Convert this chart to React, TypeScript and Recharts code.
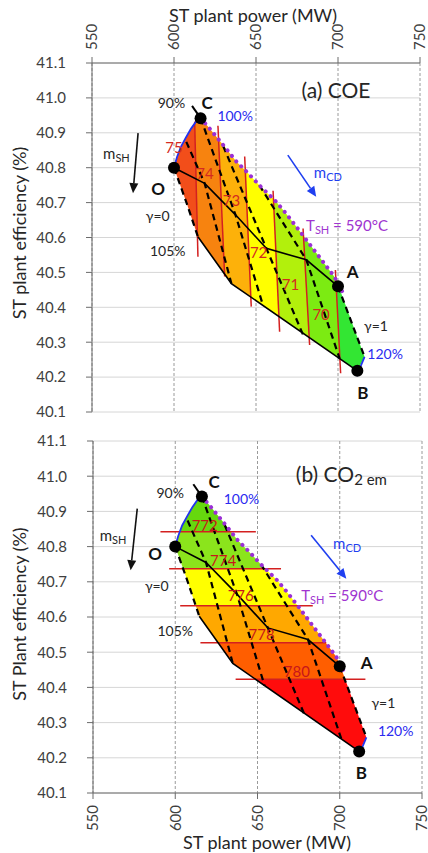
import React from "react";
import { ComposedChart, Scatter, XAxis, YAxis, CartesianGrid } from "recharts";

const FONT = "Lato, 'Open Sans', sans-serif";

// axes
const X_TICKS = [550, 600, 650, 700, 750];
const Y_TICKS = [40.1, 40.2, 40.3, 40.4, 40.5, 40.6, 40.7, 40.8, 40.9, 41.0, 41.1];

// operating points
const POINT_NAMES = ["O", "C", "A", "B"];
const POINT_X = [600, 616.2, 700, 711.8];
const POINT_Y = [40.8, 40.942, 40.46, 40.218];

// 100% boundary O -> C (blue)
const SH100_X = [600, 601.8, 604.2, 607.2, 610.4, 613.4, 616.2];
const SH100_Y = [40.8, 40.83, 40.86, 40.886, 40.912, 40.932, 40.942];

// T_SH = 590°C boundary C -> A (purple dots)
const TSH_X = [616.2, 620.7, 630, 638, 645, 653, 661.8, 667.4, 675.6, 682, 689.8, 697.9, 700, 704];
const TSH_Y = [40.942, 40.918, 40.865, 40.818, 40.785, 40.745, 40.705, 40.674, 40.625, 40.585, 40.537, 40.487, 40.465, 40.435];

// 120% short segment at B (blue) and 90% tick at C (black)
const SH120_X = [716.2, 711.3];
const SH120_Y = [40.258, 40.203];
const SH90_X = [611, 616.2];
const SH90_Y = [40.977, 40.942];

// solid lines
const MID_X = [600, 618.7, 637.5, 656.3, 680.7, 700];
const MID_Y = [40.8, 40.755, 40.665, 40.569, 40.536, 40.46];
const LOW_X = [614.6, 635, 711.8];
const LOW_Y = [40.602, 40.468, 40.218];

// dashed gamma lines (gamma = 0 ... 1)
const GAMMA_X = [
  [600, 607.6, 614.6],
  [607.5, 618.7, 635],
  [616.2, 637.5, 654.3],
  [630, 656.3, 678.7],
  [652, 680.7, 701],
  [700, 716.2],
];
const GAMMA_Y = [
  [40.8, 40.7, 40.602],
  [40.874, 40.755, 40.468],
  [40.942, 40.665, 40.405],
  [40.862, 40.569, 40.321],
  [40.75, 40.536, 40.253],
  [40.46, 40.258],
];

// (a) COE contour lines and labels
const COE_TOP_X = [612.6, 626.8, 643.1, 660.4, 678.7, 698.4];
const COE_TOP_Y = [40.932, 40.92, 40.832, 40.734, 40.626, 40.507];
const COE_BOT_X = [614.6, 630.9, 647.1, 664.4, 682.7, 701.6];
const COE_BOT_Y = [40.545, 40.488, 40.402, 40.33, 40.292, 40.211];
const COE_LABELS = ["75", "74", "73", "72", "71", "70"];
const COE_LABEL_X = [600, 618.9, 635.1, 651.6, 671, 689.7];
const COE_LABEL_Y = [40.858, 40.784, 40.707, 40.559, 40.468, 40.382];
const COE_COLORS = ["#F24E1A", "#F7830F", "#FDB10A", "#FFFF00", "#B2F00C", "#7CEB12", "#33E633"];

// (b) CO2 emission contour lines and labels
const CO2_Y = [40.842, 40.737, 40.632, 40.527, 40.423];
const CO2_X0 = [591, 596.3, 603, 615.3, 636.7];
const CO2_X1 = [649, 664.3, 683.6, 691.8, 715.6];
const CO2_LABELS = ["772", "774", "776", "778", "780"];
const CO2_LABEL_X = [617.9, 629.1, 639.8, 652.5, 673.9];
const CO2_LABEL_Y = [40.861, 40.763, 40.662, 40.553, 40.448];
const CO2_COLORS = ["#66D80E", "#8BE41C", "#FFFF00", "#FFA800", "#FF5E00", "#FF0C0C"];

// annotations
const NOTE_A = { plain: [["90%", 598.4, 40.987], ["γ=0", 590.1, 40.664], ["105%", 596.2, 40.564], ["γ=1", 723.2, 40.349]], bold: [["O", 590.3, 40.741], ["C", 620.2, 40.987], ["A", 709, 40.502], ["B", 715.1, 40.155]], blue: [["100%", 637.3, 40.951], ["120%", 728.7, 40.269]] };
const NOTE_B = { plain: [["90%", 596.9, 40.955], ["γ=0", 588.8, 40.69], ["105%", 600, 40.562], ["γ=1", 726.5, 40.358]], bold: [["O", 587.8, 40.78], ["C", 623.7, 40.986], ["A", 716.3, 40.472], ["B", 713.2, 40.159]], blue: [["100%", 640.3, 40.936], ["120%", 734, 40.278]] };
const SUB_A = { msh: [564.9, 40.842], mcd: [693.8, 40.789], tsh: [705.5, 40.636], title: [698.8, 41.023] };
const SUB_B = { msh: [562.2, 40.832], mcd: [704.5, 40.809], tsh: [701.5, 40.662], title: [701, 41.008] };
const ARROW_A = { msh: [[578.1, 40.899], [575, 40.727]], mcd: [[669.4, 40.836], [686.7, 40.717]] };
const ARROW_B = { msh: [[576.9, 40.908], [572.9, 40.733]], mcd: [[682.6, 40.832], [704, 40.709]] };

type Pt = { x: number; y: number };
const zip = (xs: number[], ys: number[]): Pt[] => xs.map((x, i) => ({ x, y: ys[i] }));
const toD = (p: Pt[], close = false) =>
  p.map((q, i) => `${i ? "L" : "M"}${q.x.toFixed(2)},${q.y.toFixed(2)}`).join(" ") + (close ? " Z" : "");
const along = (a: Pt, b: Pt, t: number): Pt => ({ x: a.x + t * (b.x - a.x), y: a.y + t * (b.y - a.y) });
const NoDot = () => <g />;

const REGION: Pt[] = [
  ...zip(SH100_X, SH100_Y),
  ...zip(TSH_X, TSH_Y).filter((p) => p.x > 616.2 && p.x <= 700),
  { x: GAMMA_X[5][1], y: GAMMA_Y[5][1] },
  { x: POINT_X[3], y: POINT_Y[3] },
  { x: LOW_X[1], y: LOW_Y[1] },
  { x: LOW_X[0], y: LOW_Y[0] },
  { x: GAMMA_X[0][1], y: GAMMA_Y[0][1] },
];

// band polygons (clipped to the region when drawn)
const coeEdges = [
  { top: { x: 540, y: 41.6 }, bot: { x: 540, y: 39.6 } },
  ...COE_TOP_X.map((x, i) => {
    const a = { x, y: COE_TOP_Y[i] };
    const b = { x: COE_BOT_X[i], y: COE_BOT_Y[i] };
    return { top: along(a, b, -1.5), bot: along(a, b, 2.5) };
  }),
  { top: { x: 760, y: 41.6 }, bot: { x: 760, y: 39.6 } },
];
const COE_BANDS = coeEdges.slice(1).map((e, i) => [coeEdges[i].top, e.top, e.bot, coeEdges[i].bot]);
const co2Levels = [41.6, ...CO2_Y, 39.6];
const CO2_BANDS = co2Levels.slice(1).map((lo, i) => [
  { x: 540, y: co2Levels[i] },
  { x: 760, y: co2Levels[i] },
  { x: 760, y: lo },
  { x: 540, y: lo },
]);

const series = (key: string, data: Pt[], draw: (p: Pt[]) => React.ReactElement) => (
  <Scatter key={key} data={data} shape={NoDot} line={(lp: any) => draw(lp.points)} isAnimationActive={false} legendType="none" />
);

const polyline = (key: string, data: Pt[], style: any) =>
  series(key, data, (p) => <path d={toD(p)} fill="none" {...style} />);

const arrow = (key: string, ends: number[][], color: string) =>
  series(key, ends.map(([x, y]) => ({ x, y })), (p) => {
    const [a, b] = p;
    const ang = Math.atan2(b.y - a.y, b.x - a.x);
    const L = 10, W = 4.5;
    const bx = b.x - L * Math.cos(ang), by = b.y - L * Math.sin(ang);
    const l = { x: bx + W * Math.sin(ang), y: by - W * Math.cos(ang) };
    const r = { x: bx - W * Math.sin(ang), y: by + W * Math.cos(ang) };
    return (
      <g>
        <path d={toD([a, { x: bx, y: by }])} stroke={color} strokeWidth={1.6} fill="none" />
        <path d={toD([b, l, r], true)} fill={color} />
      </g>
    );
  });

const texts = (key: string, items: any[], style: any) => (
  <Scatter
    key={key}
    data={items.map(([t, x, y]) => ({ t, x, y }))}
    isAnimationActive={false}
    legendType="none"
    shape={(s: any) => (
      <text x={s.cx} y={s.cy} textAnchor="middle" dominantBaseline="central" fontFamily={FONT} {...style}>
        {s.payload.t}
      </text>
    )}
  />
);

const subText = (key: string, pos: number[], t: string, sub: string, rest: string, style: any, subSize = 11, shift = 4) => (
  <Scatter
    key={key}
    data={[{ x: pos[0], y: pos[1] }]}
    isAnimationActive={false}
    legendType="none"
    shape={(s: any) => (
      <text x={s.cx} y={s.cy} textAnchor="middle" dominantBaseline="central" fontFamily={FONT} {...style}>
        {t}
        <tspan fontSize={subSize} dy={shift}>{sub}</tspan>
        {rest ? <tspan dy={-shift}>{rest}</tspan> : null}
      </text>
    )}
  />
);

function regionLayers(id: string, bands: Pt[][], colors: string[]) {
  return [
    series(`${id}-clip`, REGION, (p) => (
      <clipPath id={id}>
        <path d={toD(p, true)} />
      </clipPath>
    )),
    ...bands.map((poly, i) =>
      series(`${id}-band-${i}`, poly, (p) => <path d={toD(p, true)} fill={colors[i]} stroke="none" clipPath={`url(#${id})`} />)
    ),
  ];
}

function meshLayers(id: string) {
  return [
    ...GAMMA_X.map((xs, i) =>
      polyline(`${id}-g${i}`, zip(xs, GAMMA_Y[i]), { stroke: "#000", strokeWidth: 2.2, strokeDasharray: "6.5 4.5" })
    ),
    polyline(`${id}-mid`, zip(MID_X, MID_Y), { stroke: "#000", strokeWidth: 1.6 }),
    polyline(`${id}-low`, zip(LOW_X, LOW_Y), { stroke: "#000", strokeWidth: 1.6 }),
    polyline(`${id}-sh100`, zip(SH100_X, SH100_Y), { stroke: "#2233EE", strokeWidth: 1.8 }),
    polyline(`${id}-sh120`, zip(SH120_X, SH120_Y), { stroke: "#2233EE", strokeWidth: 1.8 }),
    polyline(`${id}-sh90`, zip(SH90_X, SH90_Y), { stroke: "#000", strokeWidth: 2 }),
    polyline(`${id}-tsh`, zip(TSH_X, TSH_Y), { stroke: "#9B2FD6", strokeWidth: 4, strokeDasharray: "0.1 6.9", strokeLinecap: "round" }),
  ];
}

function annotationLayers(id: string, note: any, sub: any, arrows: any) {
  return [
    <Scatter
      key={`${id}-pts`}
      data={zip(POINT_X, POINT_Y).map((p, i) => ({ ...p, name: POINT_NAMES[i] }))}
      isAnimationActive={false}
      legendType="none"
      shape={(s: any) => <circle cx={s.cx} cy={s.cy} r={6} fill="#000" />}
    />,
    texts(`${id}-plain`, note.plain, { fontSize: 14, fill: "#262626" }),
    texts(`${id}-bold`, note.bold, { fontSize: 17, fontWeight: 700, fill: "#111" }),
    texts(`${id}-blue`, note.blue, { fontSize: 14, fill: "#2a2af0" }),
    arrow(`${id}-amsh`, arrows.msh, "#111"),
    arrow(`${id}-amcd`, arrows.mcd, "#1f3ff0"),
    subText(`${id}-msh`, sub.msh, "m", "SH", "", { fontSize: 15, fill: "#262626" }),
    subText(`${id}-mcd`, sub.mcd, "m", "CD", "", { fontSize: 15, fill: "#1f3ff0" }),
    subText(`${id}-tsh`, sub.tsh, "T", "SH", " = 590°C", { fontSize: 15, fill: "#A035D0" }),
  ];
}

const axisColor = "#6b6b6b";
const tickStyle = { fontSize: 15, fill: "#404040", fontFamily: FONT };

const TopTick = (p: any) => (
  <text x={p.x} y={p.y - 5} transform={`rotate(-90 ${p.x} ${p.y - 5})`} textAnchor="start" dy="0.36em" {...tickStyle}>
    {p.payload.value}
  </text>
);
const BottomTick = (p: any) => (
  <text x={p.x} y={p.y + 4} transform={`rotate(-90 ${p.x} ${p.y + 4})`} textAnchor="end" dy="0.36em" {...tickStyle}>
    {p.payload.value}
  </text>
);

function PanelA() {
  return (
    <ComposedChart width={428} height={420} margin={{ top: 0, right: 8, bottom: 8, left: 0 }}>
      <CartesianGrid vertical={false} stroke="#d6d6d6" />
      <CartesianGrid horizontal={false} stroke="#9a9a9a" strokeDasharray="3 2" />
      <XAxis type="number" dataKey="x" orientation="top" domain={[550, 750]} ticks={X_TICKS} interval={0} allowDataOverflow height={63} stroke={axisColor} tickSize={6} tick={<TopTick />} />
      <YAxis type="number" dataKey="y" domain={[40.1, 41.1]} ticks={Y_TICKS} interval={0} allowDataOverflow width={92} stroke={axisColor} tickSize={6} tickMargin={20} tick={tickStyle} tickFormatter={(v: number) => v.toFixed(1)} />
      {regionLayers("clipA", COE_BANDS, COE_COLORS)}
      {COE_TOP_X.map((x, i) =>
        polyline(`coe-l${i}`, [{ x, y: COE_TOP_Y[i] }, { x: COE_BOT_X[i], y: COE_BOT_Y[i] }], { stroke: "#D42020", strokeWidth: 1.5 })
      )}
      {meshLayers("a")}
      {texts("coe-lab", COE_LABELS.map((t, i) => [t, COE_LABEL_X[i], COE_LABEL_Y[i]]), { fontSize: 15, fill: "#D42A20" })}
      {annotationLayers("a", NOTE_A, SUB_A, ARROW_A)}
      {texts("a-title", [["(a) COE", SUB_A.title[0], SUB_A.title[1]]], { fontSize: 21, fill: "#262626" })}
    </ComposedChart>
  );
}

function PanelB() {
  return (
    <ComposedChart width={428} height={433} margin={{ top: 21, right: 6, bottom: 0, left: 1 }}>
      <CartesianGrid vertical={false} stroke="#d6d6d6" />
      <CartesianGrid horizontal={false} stroke="#9a9a9a" strokeDasharray="3 2" />
      <XAxis type="number" dataKey="x" orientation="bottom" domain={[550, 750]} ticks={X_TICKS} interval={0} allowDataOverflow height={60} stroke={axisColor} tickSize={6} tick={<BottomTick />} />
      <YAxis type="number" dataKey="y" domain={[40.1, 41.1]} ticks={Y_TICKS} interval={0} allowDataOverflow width={92} stroke={axisColor} tickSize={6} tickMargin={20} tick={tickStyle} tickFormatter={(v: number) => v.toFixed(1)} />
      {regionLayers("clipB", CO2_BANDS, CO2_COLORS)}
      {CO2_Y.map((y, i) =>
        polyline(`co2-l${i}`, [{ x: CO2_X0[i], y }, { x: CO2_X1[i], y }], { stroke: "#D42020", strokeWidth: 1.5 })
      )}
      {meshLayers("b")}
      {texts("co2-lab", CO2_LABELS.map((t, i) => [t, CO2_LABEL_X[i], CO2_LABEL_Y[i]]), { fontSize: 15, fill: "#C8161A" })}
      {annotationLayers("b", NOTE_B, SUB_B, ARROW_B)}
      {subText("b-title", SUB_B.title, "(b) CO", "2 em", "", { fontSize: 21, fill: "#262626" }, 15, 6)}
    </ComposedChart>
  );
}

const titleAt = (x: number, y: number, rotate = false): React.CSSProperties => ({
  position: "absolute",
  left: x,
  top: y,
  transform: `translate(-50%, -50%)${rotate ? " rotate(-90deg)" : ""}`,
  whiteSpace: "nowrap",
  fontSize: 18,
  lineHeight: 1,
  color: "#262626",
  fontFamily: FONT,
});

export default function App() {
  return (
    <div style={{ position: "absolute", left: 0, top: 0, width: 428, height: 853, background: "#fff", overflow: "hidden" }}>
      <div style={{ position: "absolute", left: 0, top: 0 }}>
        <PanelA />
      </div>
      <div style={{ position: "absolute", left: 0, top: 420 }}>
        <PanelB />
      </div>
      <div style={titleAt(253, 15)}>ST plant power (MW)</div>
      <div style={titleAt(19, 233, true)}>ST plant efficiency (%)</div>
      <div style={titleAt(19, 614, true)}>ST Plant efficiency (%)</div>
      <div style={titleAt(267, 842)}>ST plant power (MW)</div>
    </div>
  );
}
